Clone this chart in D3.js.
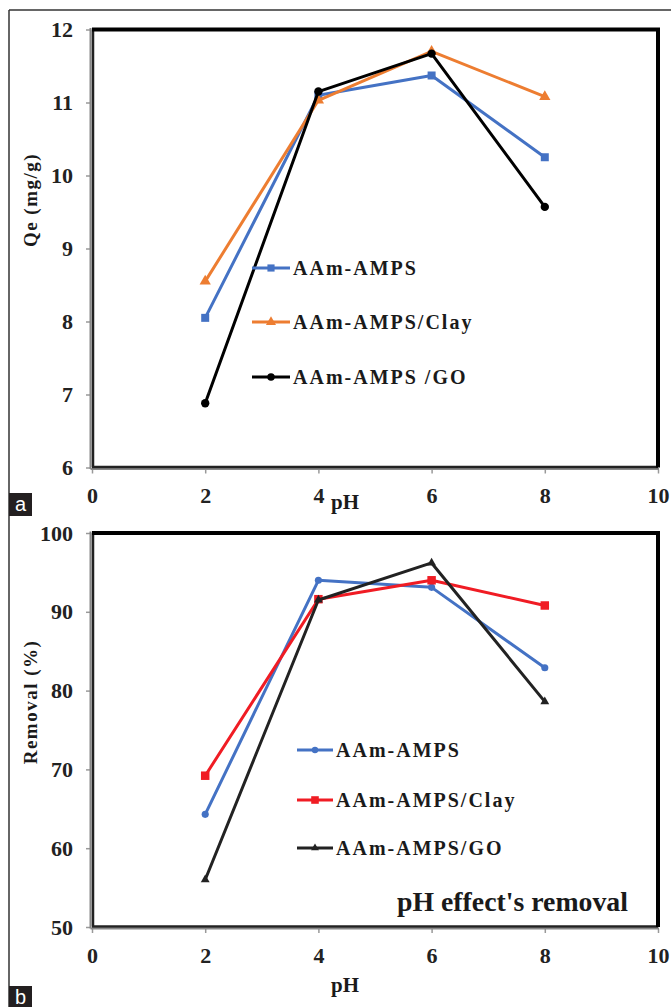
<!DOCTYPE html>
<html>
<head>
<meta charset="utf-8">
<script src="https://cdn.jsdelivr.net/npm/d3@7"></script>
<style>
  body { margin: 0; background: #fff; }
  svg { display: block; }
  .tick text { font-family: 'Liberation Serif', serif; font-weight: bold; fill: #222; }
</style>
</head>
<body>
<svg id="fig" width="671" height="1007"></svg>
<script>
// values
const phValues = [2, 4, 6, 8];
const xTicks = [0, 2, 4, 6, 8, 10];

const qeAmps = [8.05, 11.1, 11.37, 10.25];
const qeClay = [8.55, 11.03, 11.7, 11.08];
const qeGo = [6.88, 11.15, 11.67, 9.57];
const qeTicks = [6, 7, 8, 9, 10, 11, 12];

const remAmps = [64.3, 94.0, 93.1, 82.9];
const remClay = [69.2, 91.6, 94.0, 90.8];
const remGo = [56.0, 91.5, 96.2, 78.6];
const remTicks = [50, 60, 70, 80, 90, 100];

const labelsA = ['AAm-AMPS', 'AAm-AMPS/Clay', 'AAm-AMPS /GO'];
const labelsB = ['AAm-AMPS', 'AAm-AMPS/Clay', 'AAm-AMPS/GO'];

const svg = d3.select('#fig');
const serif = "'Liberation Serif', 'Times New Roman', serif";

// outer frame of the figure
svg.append('line').attr('x1', 9).attr('y1', 10).attr('x2', 671).attr('y2', 10)
  .style('stroke', '#333').style('stroke-width', 1.5);
svg.append('line').attr('x1', 9).attr('y1', 10).attr('x2', 9).attr('y2', 1007)
  .style('stroke', '#333').style('stroke-width', 1.5);

function drawPanel(cfg) {
  const sx = d3.scaleLinear().domain([0, 10]).range([92, 658]);
  const sy = d3.scaleLinear().domain(cfg.domainY).range([cfg.bottom, cfg.top]);
  const g = svg.append('g');

  // axes with small grey ticks
  const yAxis = d3.axisLeft(sy).tickValues(cfg.ticksY).tickFormat(d3.format('d'))
    .tickSize(4).tickPadding(13);
  const xAxis = d3.axisBottom(sx).tickValues(xTicks).tickFormat(d3.format('d'))
    .tickSize(4).tickPadding(14);
  g.append('g').attr('transform', `translate(${sx(0) - 2}, 0)`).call(yAxis);
  g.append('g').attr('transform', `translate(0, ${sy(cfg.domainY[0]) + 2})`).call(xAxis);
  g.selectAll('.domain').remove();
  g.selectAll('.tick line').style('stroke', '#999').style('stroke-width', 1.5);
  g.selectAll('.tick text').style('font-size', '22px');

  // plot area frame: dark top/right, grey-shadowed left/bottom
  const x0 = sx(0), x1 = sx(10), y0 = sy(cfg.domainY[1]), y1 = sy(cfg.domainY[0]);
  g.append('path').attr('d', `M${x0 - 1.5},${y1 + 1.5}V${y0 - 1.5}`)
    .style('stroke', '#888').style('stroke-width', 2).style('fill', 'none');
  g.append('path').attr('d', `M${x0 - 1.5},${y1 + 1.5}H${x1 + 1}`)
    .style('stroke', '#888').style('stroke-width', 2).style('fill', 'none');
  g.append('path').attr('d', `M${x0 + 1},${y1 - 0.5}V${y0}`)
    .style('stroke', '#222').style('stroke-width', 2.5).style('fill', 'none');
  g.append('path').attr('d', `M${x0},${y1 - 0.5}H${x1}`)
    .style('stroke', '#222').style('stroke-width', 2.5).style('fill', 'none');
  g.append('path').attr('d', `M${x0},${y0}H${x1}V${y1}`)
    .style('stroke', '#000').style('stroke-width', 4).style('fill', 'none');

  // series
  const line = d3.line().x((d, i) => sx(phValues[i])).y(d => sy(d));
  cfg.series.forEach(s => {
    g.append('path').datum(s.values).attr('d', line)
      .style('fill', 'none').style('stroke', s.color).style('stroke-width', 3)
      .style('stroke-linejoin', 'round');
    g.selectAll(null).data(s.values).enter().append('path')
      .attr('transform', (d, i) => `translate(${sx(phValues[i])}, ${sy(d)})`)
      .attr('d', d3.symbol().type(s.symbol).size(s.size))
      .style('fill', s.color);
  });

  // legend
  cfg.series.forEach((s, i) => {
    const ly = cfg.legend.rows[i];
    g.append('line').attr('x1', cfg.legend.x).attr('x2', cfg.legend.x + cfg.legend.w)
      .attr('y1', ly).attr('y2', ly)
      .style('stroke', s.color).style('stroke-width', 3);
    g.append('path')
      .attr('transform', `translate(${cfg.legend.x + cfg.legend.w / 2}, ${ly})`)
      .attr('d', d3.symbol().type(s.symbol).size(s.size * 0.8))
      .style('fill', s.color);
    g.append('text').attr('x', cfg.legend.x + cfg.legend.w + 3).attr('y', ly + 7)
      .text(s.name)
      .style('font-family', serif).style('font-weight', 'bold')
      .style('font-size', '20px').style('letter-spacing', '2px').style('fill', '#1a1a1a');
  });

  // axis titles
  g.append('text')
    .attr('transform', `translate(37, ${cfg.titleY}) rotate(-90)`)
    .attr('text-anchor', 'middle')
    .text(cfg.yTitle)
    .style('font-family', serif).style('font-weight', 'bold')
    .style('font-size', '19px').style('letter-spacing', '1.5px').style('fill', '#1a1a1a');
  g.append('text').attr('x', 345).attr('y', cfg.pHY).attr('text-anchor', 'middle')
    .text('pH')
    .style('font-family', serif).style('font-weight', 'bold')
    .style('font-size', '21px').style('fill', '#1a1a1a');

  // panel letter
  g.append('rect').attr('x', 9).attr('y', cfg.letterY).attr('width', 23).attr('height', 23)
    .style('fill', '#231f20');
  g.append('text').attr('x', 20.5).attr('y', cfg.letterY + 18).attr('text-anchor', 'middle')
    .text(cfg.letter)
    .style('font-family', "'Liberation Sans', Arial, sans-serif")
    .style('font-size', '20px').style('fill', '#fff');

  return g;
}

drawPanel({
  domainY: [6, 12], ticksY: qeTicks, top: 29.5, bottom: 467.5,
  yTitle: 'Qe (mg/g)', titleY: 200, pHY: 509, letter: 'a', letterY: 493,
  series: [
    { name: labelsA[0], values: qeAmps, color: '#4472c4', symbol: d3.symbolSquare, size: 64 },
    { name: labelsA[1], values: qeClay, color: '#ed7d31', symbol: d3.symbolTriangle, size: 55 },
    { name: labelsA[2], values: qeGo, color: '#000000', symbol: d3.symbolCircle, size: 55 }
  ],
  legend: { x: 252, w: 38, rows: [268, 322, 377] }
});

const gb = drawPanel({
  domainY: [50, 100], ticksY: remTicks, top: 533, bottom: 927,
  yTitle: 'Removal (%)', titleY: 702, pHY: 992, letter: 'b', letterY: 986,
  series: [
    { name: labelsB[0], values: remAmps, color: '#4472c4', symbol: d3.symbolCircle, size: 40 },
    { name: labelsB[1], values: remClay, color: '#f01c24', symbol: d3.symbolSquare, size: 72 },
    { name: labelsB[2], values: remGo, color: '#222222', symbol: d3.symbolTriangle, size: 34 }
  ],
  legend: { x: 297, w: 36, rows: [750, 800, 848] }
});

gb.append('text').attr('x', 628).attr('y', 911).attr('text-anchor', 'end')
  .attr('textLength', 231).attr('lengthAdjust', 'spacingAndGlyphs')
  .text("pH effect's removal")
  .style('font-family', serif).style('font-weight', 'bold')
  .style('font-size', '27px').style('fill', '#1a1a1a');
</script>
</body>
</html>
